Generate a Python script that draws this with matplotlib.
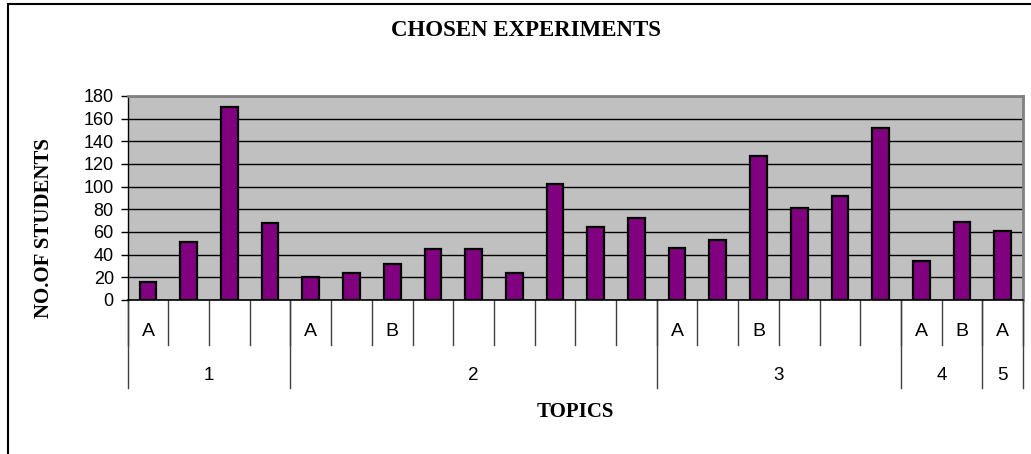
import numpy as np
import matplotlib.pyplot as plt
from matplotlib.transforms import blended_transform_factory
from matplotlib.patches import Rectangle

# student counts per experiment
values = [16, 51, 170, 68,
          20, 24, 32, 45, 45, 24, 102, 64, 72,
          46, 53, 127, 81, 92, 152,
          34, 69,
          61]
sub_labels = ['A', '', '', '',
              'A', '', 'B', '', '', '', '', '', '',
              'A', '', 'B', '', '', '',
              'A', 'B',
              'A']
topics = ['1', '2', '3', '4', '5']
topic_sizes = [4, 9, 6, 2, 1]

fig = plt.figure(figsize=(10.31, 4.54), dpi=100)
fig.patches.append(Rectangle((8 / 1031, -0.1), 1.2, (454 - 4) / 454 + 0.1,
                             transform=fig.transFigure, fill=False,
                             edgecolor='black', linewidth=1.5))

ax = fig.add_axes([127.7 / 1031, (454 - 300) / 454, (1023 - 127.7) / 1031, 204 / 454])
ax.set_facecolor('#C0C0C0')

x = np.arange(len(values))
ax.bar(x, values, width=0.41, color='#800080', edgecolor='black', linewidth=1.6, zorder=3)

ax.set_xlim(-0.5, len(values) - 0.5)
ax.set_ylim(0, 180)
ax.set_yticks(range(0, 181, 20))
ax.yaxis.grid(True, color='black', linewidth=1)
ax.set_axisbelow(True)
ax.tick_params(axis='y', labelsize=13, length=5, width=1, pad=5)
for lab in ax.get_yticklabels():
    lab.set_family('Liberation Sans')
ax.set_xticks([])

ax.spines['top'].set_color('#808080')
ax.spines['right'].set_color('#808080')
ax.spines['top'].set_linewidth(2)
ax.spines['right'].set_linewidth(2)
ax.spines['left'].set_linewidth(1)
ax.spines['bottom'].set_linewidth(1.2)

# category table under the axis
tr = blended_transform_factory(ax.transData, ax.transAxes)
y_inner = -45 / 204
y_outer = -88 / 204
for i in range(len(values) + 1):
    ax.plot([i - 0.5, i - 0.5], [0, y_inner], transform=tr, color='#404040',
            linewidth=1, clip_on=False)
for i, lab in enumerate(sub_labels):
    ax.text(i, -32 / 204, lab, transform=tr, ha='center', va='center',
            fontsize=14, family='Liberation Sans')
start = 0
ax.plot([-0.5, -0.5], [0, y_outer], transform=tr, color='#404040', linewidth=1, clip_on=False)
for t, n in zip(topics, topic_sizes):
    end = start + n
    ax.plot([end - 0.5, end - 0.5], [0, y_outer], transform=tr, color='#404040',
            linewidth=1, clip_on=False)
    ax.text((start + end - 1) / 2, -75 / 204, t, transform=tr, ha='center', va='center',
            fontsize=13.5, family='Liberation Sans')
    start = end

fig.text(526 / 1031, 1 - 31 / 454, 'CHOSEN EXPERIMENTS', ha='center', va='center',
         fontsize=16.5, fontweight='bold', family='Liberation Serif')
fig.text(575 / 1031, 1 - 412 / 454, 'TOPICS', ha='center', va='center',
         fontsize=15, fontweight='bold', family='Liberation Serif')
fig.text(44 / 1031, 1 - 228 / 454, 'NO.OF STUDENTS', ha='center', va='center',
         rotation=90, fontsize=15, fontweight='bold', family='Liberation Serif')

fig.savefig('out.png', dpi=100)
